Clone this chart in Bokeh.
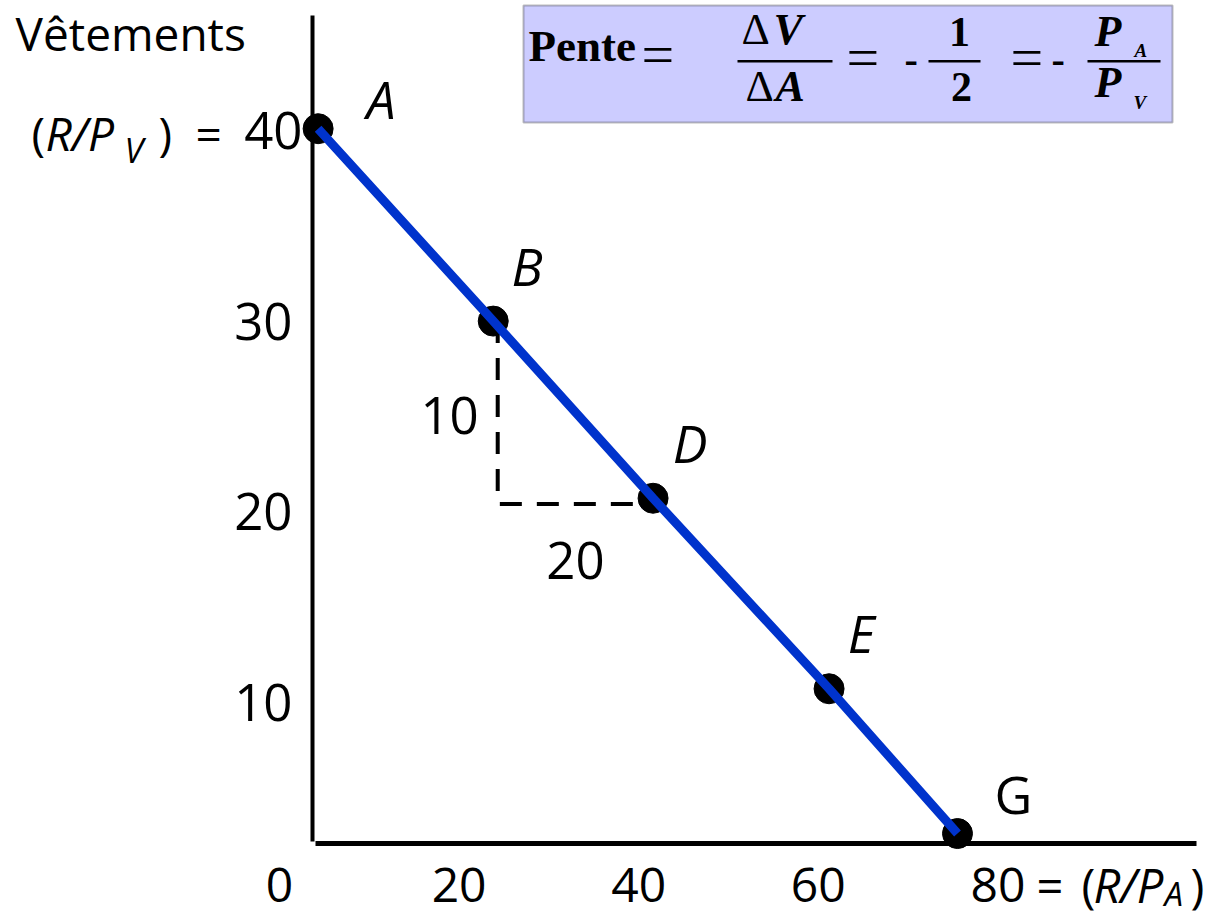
from bokeh.plotting import figure
from bokeh.models import Range1d, LinearAxis, FixedTicker, BoxAnnotation, ColumnDataSource
from bokeh.core.properties import value
from bokeh.embed import file_html
from bokeh.resources import INLINE

# ---------------- data (in the axis-label scale) ----------------
points = ["A", "B", "D", "E", "G"]
alimentation = [4.3, 23.8, 41.6, 61.2, 75.5]      # x values of the points
vetements = [40.2, 30.1, 20.8, 10.8, 3.2]         # y values of the points

x_ticks = [0, 20, 40, 60, 80]
x_tick_labels = ["0", "20", "40", "60", "80"]
y_ticks = [10, 20, 30, 40]
y_tick_labels = ["10", "20", "30", "40"]

# slope triangle between B and D
tri_x = [24.3, 24.3, 41.6]
tri_y = [30.1, 20.5, 20.5]
tri_labels = ["10", "20"]

# ---------------- layout ----------------
W, H = 1212, 917
X0_PX, X_UNIT = 279.0, 8.98      # screen x of data 0, px per unit
Y0_PX, Y_UNIT = 894.0, 19.05     # screen y (from top) of data 0, px per unit

def dx(X):   # screen pixel -> data x
    return (X - X0_PX) / X_UNIT

def dy(Y):   # screen pixel -> data y
    return (Y0_PX - Y) / Y_UNIT

SANS = "Open Sans"
SERIF = "Liberation Serif"
K = {SANS: 0.39, SERIF: 0.36}    # baseline correction (fraction of font size)

p = figure(width=W, height=H, output_backend="svg", toolbar_location=None,
           x_range=Range1d(dx(0), dx(W)), y_range=Range1d(dy(H), dy(0)),
           x_axis_location=None, y_axis_location=None, min_border=0)
p.outline_line_color = None
p.xgrid.grid_line_color = None
p.ygrid.grid_line_color = None
p.background_fill_color = "white"

# axes drawn by bokeh, inside the frame
yaxis = LinearAxis(fixed_location=dx(312), bounds=(dy(841), dy(15)), ticker=FixedTicker(ticks=[]),
                   axis_line_width=4, axis_line_color="black",
                   major_tick_line_color=None, minor_tick_line_color=None)
xaxis = LinearAxis(fixed_location=dy(843), bounds=(dx(315), dx(1196)), ticker=FixedTicker(ticks=[]),
                   axis_line_width=5, axis_line_color="black",
                   major_tick_line_color=None, minor_tick_line_color=None)
p.add_layout(yaxis, "left")
p.add_layout(xaxis, "below")

# formula box
p.add_layout(BoxAnnotation(left=dx(523), right=dx(1172), top=dy(5), bottom=dy(122),
                           fill_color="#CCCCFF", fill_alpha=1.0, line_color="#222222",
                           line_width=2, level="underlay"))
for l, r in [(737, 832), (928, 980), (1087, 1160)]:
    p.add_layout(BoxAnnotation(left=dx(l), right=dx(r), top=dy(59.5), bottom=dy(62),
                               fill_color="black", fill_alpha=1.0, line_color=None))


def txt(X, Y, s, size, font=SANS, style="normal", align="left"):
    Yc = Y - K[font] * size
    p.text(x=[dx(X)], y=[dy(Yc)], text=[s], text_font=value(font), text_font_size=f"{size}px",
           text_font_style=style, text_align=align, text_baseline="alphabetic", text_color="black")


# formula pieces
txt(528, 62, "Pente", 45, SERIF, "bold")
txt(641, 75, "=", 58, SERIF)
txt(741, 45, "\u0394", 44, SERIF)
txt(773, 45, "V", 44, SERIF, "bold italic")
txt(745, 102, "\u0394", 44, SERIF)
txt(775, 102, "A", 44, SERIF, "bold italic")
txt(846, 78, "=", 58, SERIF)
txt(904, 74, "-", 40, SERIF, "bold")
txt(959, 47, "1", 42, SERIF, "bold", "center")
txt(961, 102, "2", 42, SERIF, "bold", "center")
txt(1010, 78, "=", 58, SERIF)
txt(1051, 74, "-", 40, SERIF, "bold")
txt(1094, 47, "P", 44, SERIF, "bold italic")
txt(1134, 57, "A", 19, SERIF, "bold italic")
txt(1094, 98, "P", 44, SERIF, "bold italic")
txt(1133, 109, "V", 19, SERIF, "bold italic")

# axis titles
txt(15, 50, "Vêtements", 46)
txt(31, 150, "(", 46)
txt(45, 150, "R/P", 46, style="italic")
txt(124, 163, "V", 34, style="italic")
txt(158, 150, ")", 46)
txt(195, 150, "=", 46)
txt(1036, 903, "=", 47)
txt(1081, 903, "(", 47)
txt(1093, 903, "R/P", 47, style="italic")
txt(1164, 906, "A", 33, style="italic")
txt(1190, 903, ")", 47)

# data marks
src = ColumnDataSource(dict(x=alimentation, y=vetements, name=points))
p.scatter("x", "y", source=src, size=30, color="black")

p.line(x=tri_x, y=tri_y, line_color="black", line_width=4, line_dash="22 15")
p.line("x", "y", source=src, line_color="#0033CC", line_width=9)

# point labels
LAB, TICK_X, TICK_Y = 52, 48, 51
corr = lambda size: -K[SANS] * size
lab_dx = {"A": 63, "B": 34, "D": 37, "E": 32, "G": 56}
lab_dy = {"A": -10, "B": -35, "D": -35, "E": -36, "G": -20}
for style, names in [("italic", ["A", "B", "D", "E"]), ("normal", ["G"])]:
    idx = [points.index(n) for n in names]
    s = ColumnDataSource(dict(x=[alimentation[i] for i in idx], y=[vetements[i] for i in idx],
                              t=names, xo=[lab_dx[n] for n in names],
                              yo=[lab_dy[n] + corr(LAB) for n in names]))
    p.text("x", "y", text="t", source=s, x_offset="xo", y_offset="yo", text_font=value(SANS),
           text_font_size=f"{LAB}px", text_font_style=style, text_align="center",
           text_baseline="alphabetic", text_color="black")

# tick labels
xs = ColumnDataSource(dict(x=x_ticks, y=[0] * len(x_ticks), t=x_tick_labels))
p.text("x", "y", text="t", source=xs, y_offset=9 + corr(TICK_X), text_font=value(SANS),
       text_font_size=f"{TICK_X}px", text_align="center", text_baseline="alphabetic",
       text_color="black")
ys = ColumnDataSource(dict(x=[0] * len(y_ticks), y=y_ticks, t=y_tick_labels,
                           xo=[13, 13, 13, 23]))
p.text("x", "y", text="t", source=ys, x_offset="xo", y_offset=18 + corr(TICK_Y),
       text_font=value(SANS), text_font_size=f"{TICK_Y}px", text_align="right",
       text_baseline="alphabetic", text_color="black")

# triangle labels
ts = ColumnDataSource(dict(x=[tri_x[0], (tri_x[1] + tri_x[2]) / 2],
                           y=[(tri_y[0] + tri_y[1]) / 2, tri_y[2]], t=tri_labels,
                           xo=[-19, 0], yo=[23 + corr(TICK_Y), 76 + corr(TICK_Y)],
                           al=["right", "center"]))
p.text("x", "y", text="t", source=ts, x_offset="xo", y_offset="yo", text_font=value(SANS),
       text_font_size=f"{TICK_Y}px", text_align="al", text_baseline="alphabetic",
       text_color="black")

open("out.html", "w").write(file_html(p, INLINE))
